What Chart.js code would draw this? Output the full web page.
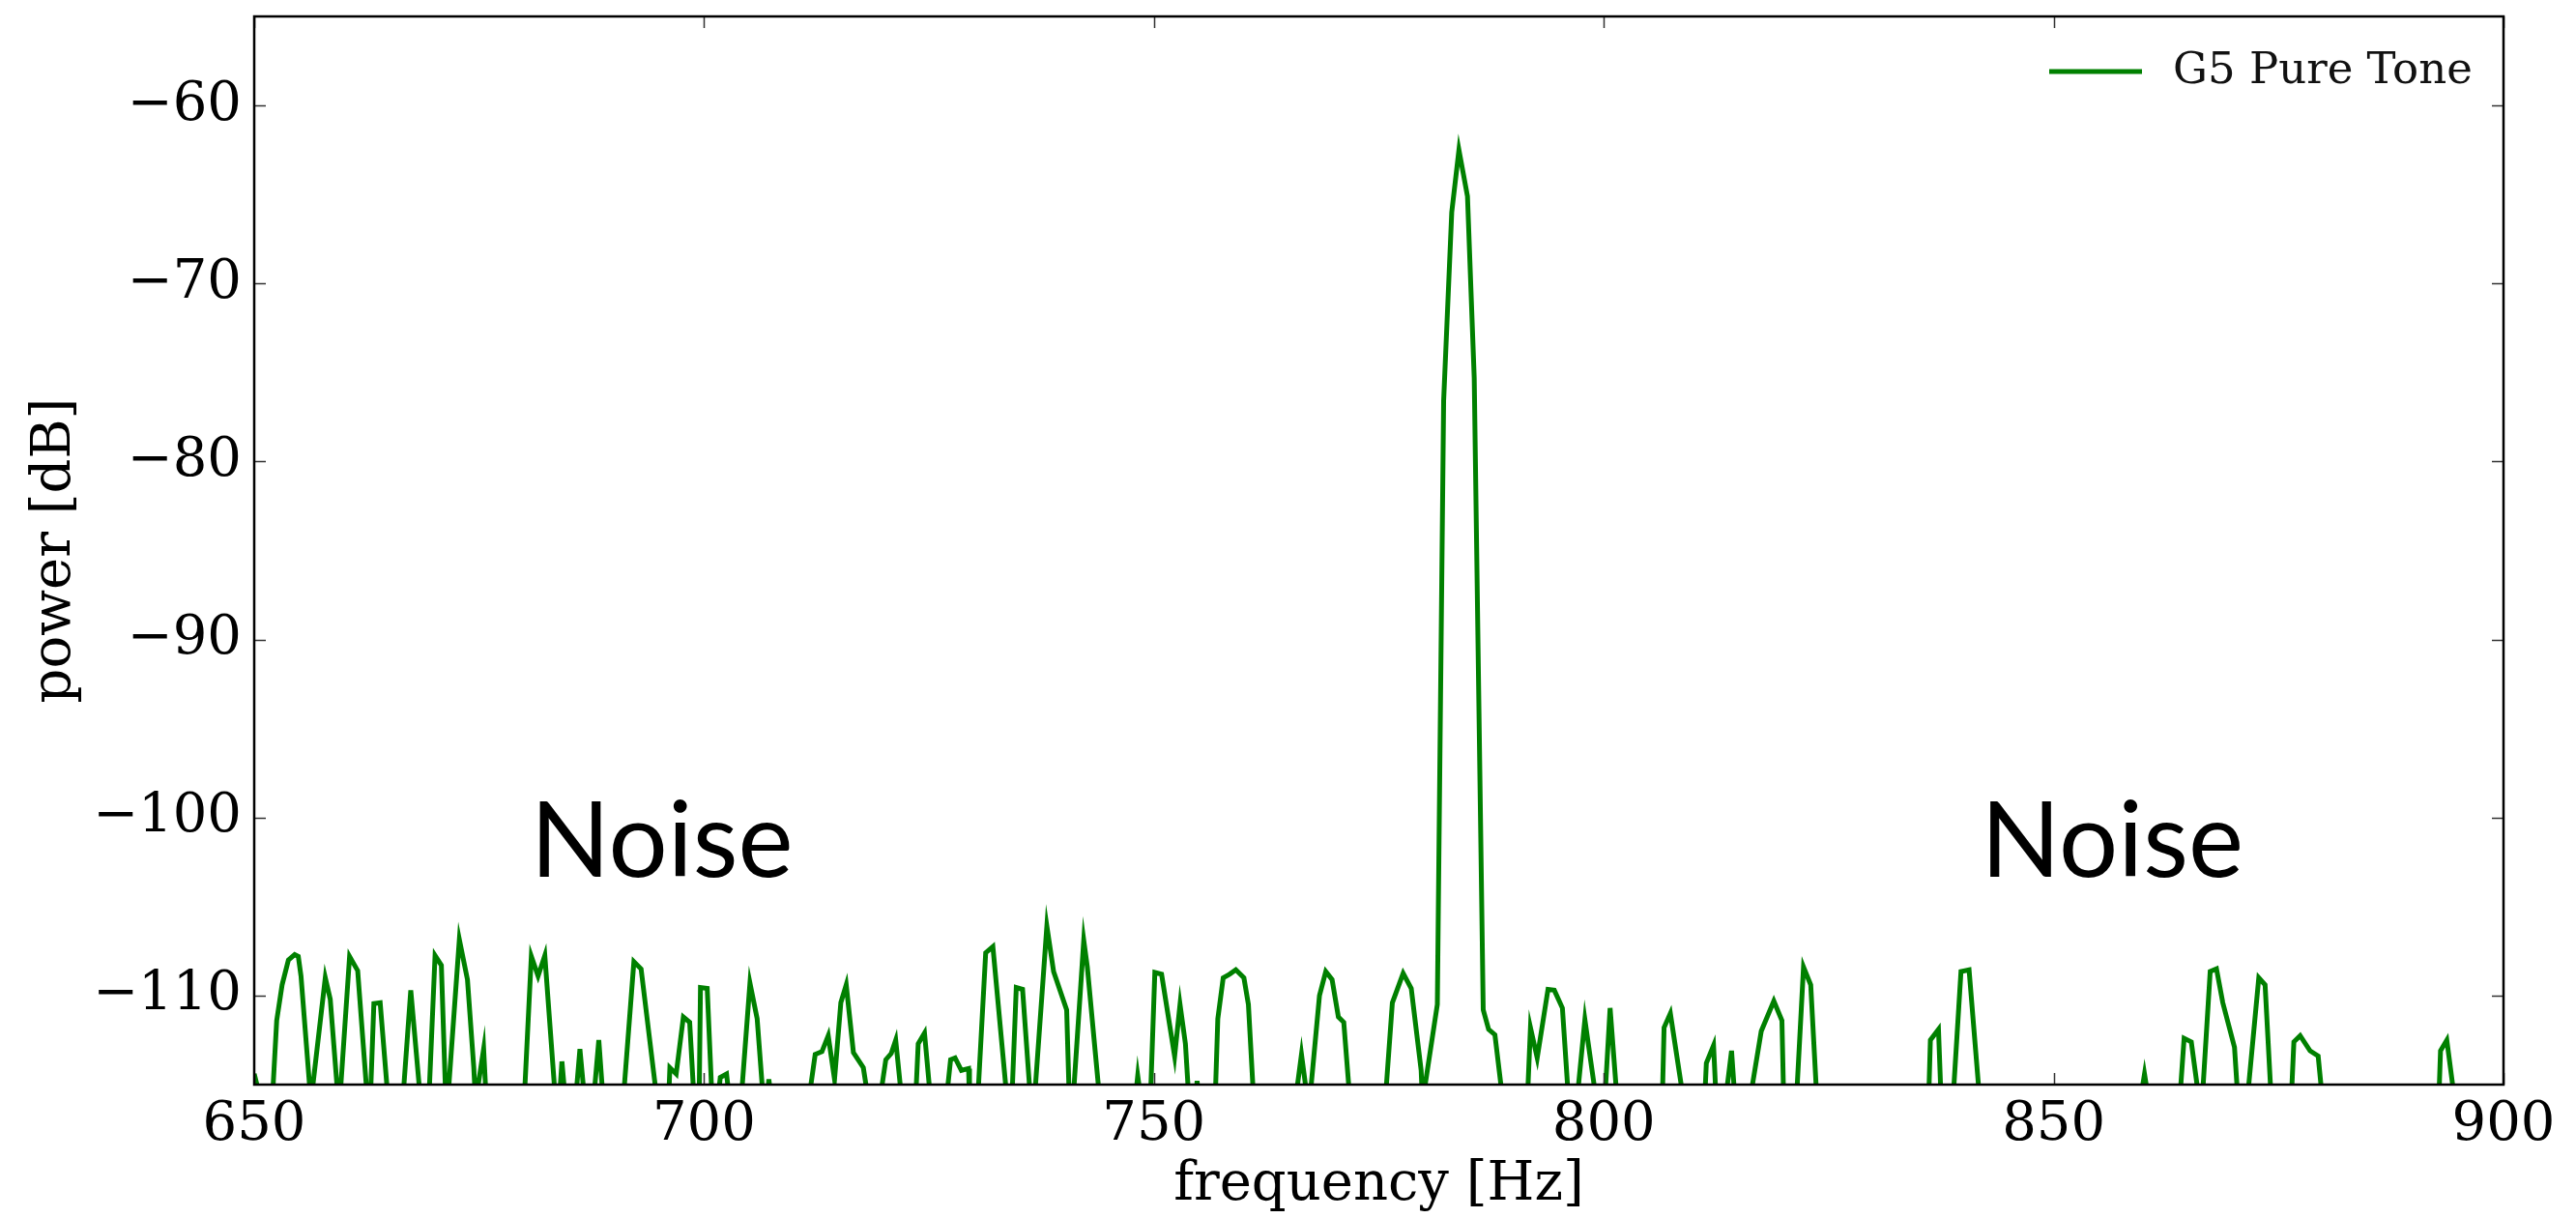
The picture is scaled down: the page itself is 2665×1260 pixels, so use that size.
<!DOCTYPE html>
<html>
<head>
<meta charset="utf-8">
<script src="https://cdn.jsdelivr.net/npm/chart.js@4.4.1/dist/chart.umd.min.js"></script>
<style>
  html, body { margin: 0; padding: 0; background: #fff; }
  canvas { display: block; }
</style>
</head>
<body>
<canvas id="spectrum" width="2665" height="1260"></canvas>
<script>
// spectrum; values below the axis floor (-115) are clipped away
const B = -116;
const freq = [
  650.0, 650.8, 652.0, 652.5, 653.1, 653.8, 654.5, 654.9, 655.2, 656.3,
  657.9, 658.45, 659.35, 659.5, 660.6, 661.5, 662.6, 662.9, 663.3, 664.0,
  664.9, 666.5, 667.4, 668.5, 669.4, 670.1, 670.8, 671.3, 671.5, 672.8,
  673.7, 674.4, 674.6, 675.5, 675.8, 680.0, 680.8, 681.55, 682.3, 683.5,
  683.9, 684.2, 684.6, 685.7, 686.2, 686.75, 687.7, 688.3, 688.8, 691.0,
  692.2, 693.0, 694.8, 696.05, 696.2, 696.9, 697.7, 698.4, 698.9, 699.45,
  699.6, 700.35, 700.9, 701.5, 701.8, 702.5, 702.85, 704.1, 705.1, 705.9,
  706.6, 707.0, 707.2, 707.5, 711.6, 712.35, 713.1, 713.8, 714.5, 715.2,
  715.8, 716.6, 717.7, 718.3, 719.5, 720.2, 720.8, 721.3, 722.0, 723.5,
  723.8, 724.5, 725.2, 726.9, 727.4, 727.9, 728.6, 729.4, 729.5, 730.4,
  731.3, 732.1, 733.7, 734.2, 734.7, 735.4, 736.3, 736.7, 738.1, 738.85,
  740.3, 740.6, 741.0, 742.2, 742.6, 744.0, 747.9, 748.2, 748.6, 749.6,
  750.1, 750.85, 752.3, 752.9, 753.5, 753.9, 754.6, 754.8, 755.0, 756.8,
  757.1, 757.7, 758.4, 759.1, 760.0, 760.5, 761.1, 765.7, 766.4, 767.1,
  767.3, 768.4, 769.1, 769.8, 770.5, 771.1, 771.8, 775.7, 776.5, 777.7,
  778.6, 779.7, 779.85, 781.5, 782.2, 783.1, 783.9, 784.85, 785.6, 786.6,
  787.2, 787.9, 788.8, 791.5, 791.85, 792.6, 793.8, 794.5, 795.4, 796.1,
  797.0, 797.9, 799.2, 800.1, 800.7, 801.5, 806.5, 806.7, 807.4, 808.9,
  811.2, 811.4, 812.2, 812.5, 813.5, 814.2, 814.6, 816.2, 817.5, 818.9,
  819.8, 820.0, 821.4, 822.2, 823.0, 823.7, 836.1, 836.3, 837.2, 837.5,
  838.8, 839.7, 840.6, 841.8, 859.6, 860.1, 860.6, 864.0, 864.5, 865.3,
  866.2, 866.5, 867.4, 868.1, 868.8, 870.1, 870.5, 871.5, 872.8, 873.5,
  874.2, 876.4, 876.7, 877.4, 878.5, 879.4, 879.9, 892.8, 893.0, 893.7,
  894.6, 900.0
];
const power = [
  -114.4, B, B, -111.4, -109.4, -108.0, -107.7, -107.8, -108.9, B,
  -109.0, -110.2, B, B, -107.8, -108.6, B, B, -110.45, -110.4,
  B, B, -109.7, B, B, -107.75, -108.3, B, B, -106.85,
  -109.1, -114.0, B, -113.0, B, B, -107.8, -108.9, -107.75, B,
  B, -113.7, B, B, -113.0, B, B, -112.5, B, B,
  -108.1, -108.5, B, B, -114.05, -114.4, -111.2, -111.5, B, B,
  -109.55, -109.6, B, B, -114.6, -114.4, B, B, -109.3, -111.3,
  B, B, -114.7, B, B, -113.3, -113.15, -112.25, -114.7, -110.4,
  -109.4, -113.2, -114.05, B, B, -113.6, -113.25, -112.5, B, B,
  -112.7, -112.1, B, B, -113.6, -113.5, -114.2, -114.1, B, B,
  -107.6, -107.25, B, B, -109.55, -109.65, B, B, -106.1, -108.65,
  -110.8, B, B, -106.9, -108.4, B, B, -114.5, B, B,
  -108.7, -108.8, -113.4, -110.5, -112.7, B, B, -114.8, B, B,
  -111.3, -109.0, -108.8, -108.55, -109.0, -110.5, B, B, -113.3, B,
  B, -110.0, -108.65, -109.1, -111.2, -111.5, B, B, -110.4, -108.75,
  -109.6, -114.2, B, -110.5, -76.6, -66.0, -62.5, -65.1, -75.3, -110.8,
  -111.9, -112.2, B, B, -111.8, -113.5, -109.65, -109.7, -110.7, B,
  B, -111.35, B, B, -110.7, B, B, -111.8, -111.0, B,
  B, -113.8, -112.8, B, B, -113.1, B, B, -112.0, -110.3,
  -111.4, B, B, -108.4, -109.4, B, B, -112.5, -111.9, B,
  B, -108.65, -108.55, B, B, -114.4, B, B, -112.4, -112.6,
  B, B, -108.65, -108.5, -110.4, -112.9, B, B, -109.0, -109.4,
  B, B, -112.6, -112.25, -113.1, -113.4, B, B, -113.1, -112.5,
  B, B
];
const xTicks = [650, 700, 750, 800, 850, 900];
const yTicks = [-110, -100, -90, -80, -70, -60];
const seriesName = 'G5 Pure Tone';
const noiseText = ['Noise', 'Noise'];
const noiseFreq = [695.3, 856.5];
const noisePower = [-103.3, -103.3];

const serif = '"DejaVu Serif", "Liberation Serif", serif';
const green = '#008000';

// matplotlib-like box, inward ticks on all sides, legend and the two overlay labels
const frameAndTicks = {
  id: 'frameAndTicks',
  afterDatasetsDraw(chart) {
    const { ctx, chartArea: a, scales: { x, y } } = chart;
    ctx.save();
    ctx.strokeStyle = '#333';
    ctx.lineWidth = 1.5;
    ctx.beginPath();
    xTicks.forEach(v => {
      const px = Math.round(x.getPixelForValue(v)) + 0.5;
      ctx.moveTo(px, a.bottom); ctx.lineTo(px, a.bottom - 12);
      ctx.moveTo(px, a.top); ctx.lineTo(px, a.top + 12);
    });
    yTicks.forEach(v => {
      const py = Math.round(y.getPixelForValue(v)) + 0.5;
      ctx.moveTo(a.left, py); ctx.lineTo(a.left + 12, py);
      ctx.moveTo(a.right, py); ctx.lineTo(a.right - 12, py);
    });
    ctx.stroke();

    ctx.strokeStyle = '#000';
    ctx.lineWidth = 2.5;
    ctx.strokeRect(a.left, a.top, a.right - a.left, a.bottom - a.top);

    // legend
    const ly = a.top + 57;
    ctx.strokeStyle = green;
    ctx.lineWidth = 5;
    ctx.beginPath();
    ctx.moveTo(a.right - 470, ly);
    ctx.lineTo(a.right - 374, ly);
    ctx.stroke();
    ctx.fillStyle = '#111';
    ctx.font = '45px ' + serif;
    ctx.textAlign = 'left';
    ctx.textBaseline = 'middle';
    ctx.fillText(seriesName, a.right - 342, ly);

    // overlay labels
    ctx.font = '108px Lato, "Open Sans", sans-serif';
    ctx.textAlign = 'center';
    ctx.textBaseline = 'alphabetic';
    ctx.fillStyle = '#000';
    noiseText.forEach((t, i) => {
      ctx.fillText(t, x.getPixelForValue(noiseFreq[i]), y.getPixelForValue(noisePower[i]));
    });
    ctx.restore();
  }
};

const minusFmt = v => (v < 0 ? '\u2212' + Math.abs(v) : String(v));

new Chart(document.getElementById('spectrum'), {
  type: 'line',
  data: {
    datasets: [{
      label: seriesName,
      data: freq.map((f, i) => ({ x: f, y: power[i] })),
      borderColor: green,
      borderWidth: 5,
      pointRadius: 0,
      tension: 0,
      fill: false,
      clip: 0
    }]
  },
  options: {
    responsive: false,
    animation: false,
    devicePixelRatio: 1,
    layout: { padding: { top: 17, right: 75, left: 0, bottom: 0 } },
    plugins: { legend: { display: false }, tooltip: { enabled: false } },
    scales: {
      x: {
        type: 'linear',
        min: 650,
        max: 900,
        afterBuildTicks: s => { s.ticks = xTicks.map(v => ({ value: v })); },
        afterFit: s => { s.height = 138; s.paddingLeft = 0; s.paddingRight = 0; },
        grid: { display: false, drawTicks: false },
        border: { display: false },
        ticks: { color: '#000', font: { family: serif, size: 56 }, padding: 9, maxRotation: 0 },
        title: { display: true, text: 'frequency [Hz]', color: '#000', font: { family: serif, size: 56 }, padding: { top: 0, bottom: 0 } }
      },
      y: {
        type: 'linear',
        min: -115,
        max: -55,
        afterBuildTicks: s => { s.ticks = yTicks.map(v => ({ value: v })); },
        afterFit: s => { s.width = 263; s.paddingTop = 0; s.paddingBottom = 0; },
        grid: { display: false, drawTicks: false },
        border: { display: false },
        ticks: { color: '#000', font: { family: serif, size: 56 }, padding: 13, callback: minusFmt },
        title: { display: true, text: 'power [dB]', color: '#000', font: { family: serif, size: 56 }, padding: { top: 24, bottom: 0 } }
      }
    }
  },
  plugins: [frameAndTicks]
});
</script>
</body>
</html>
